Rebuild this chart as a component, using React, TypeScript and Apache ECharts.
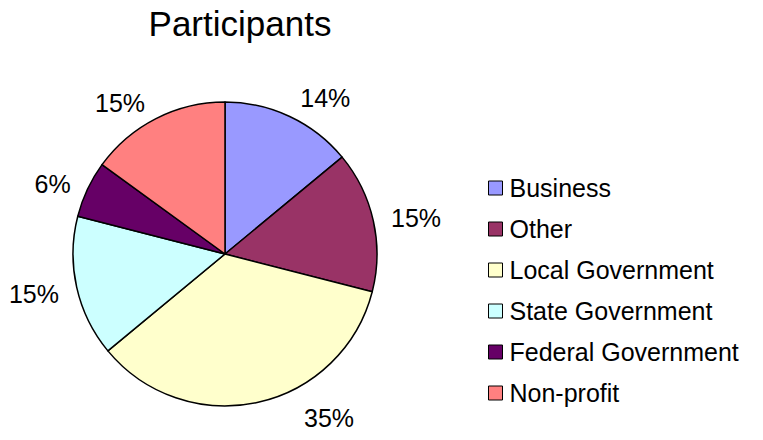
import React, { useEffect, useRef } from "react";
import * as echarts from "echarts";

const categories = ["Business", "Other", "Local Government", "State Government", "Federal Government", "Non-profit"];
const values = [14, 15, 35, 15, 6, 15];
const colors = ["#9999FF", "#993366", "#FFFFCC", "#CCFFFF", "#660066", "#FF8080"];
const titleText = "Participants";

const FONT = "'Liberation Sans', Arial, Helvetica, sans-serif";

export default function App() {
  const ref = useRef<HTMLDivElement>(null);
  useEffect(() => {
    document.body.style.margin = "0";
    const chart = echarts.init(ref.current!, undefined, { renderer: "svg" });
    chart.setOption({
      animation: false,
      backgroundColor: "#ffffff",
      title: {
        text: titleText,
        left: 235,
        textAlign: "center",
        top: 1,
        textStyle: { fontFamily: FONT, fontSize: 35, fontWeight: "normal", color: "#000" },
      },
      legend: {
        orient: "vertical",
        left: 483,
        top: 169,
        itemWidth: 14,
        itemHeight: 14,
        itemGap: 13,
        icon: "rect",
        itemStyle: { borderColor: "#000", borderWidth: 1 },
        textStyle: { fontFamily: FONT, fontSize: 25, color: "#000", lineHeight: 28, padding: [0, 0, 0, 2] },
        data: categories,
      },
      series: [
        {
          type: "pie",
          center: [225, 254],
          radius: 152,
          startAngle: 90,
          clockwise: true,
          avoidLabelOverlap: false,
          itemStyle: { borderColor: "#000", borderWidth: 1.5 },
          emphasis: { disabled: true },
          label: {
            show: true,
            position: "outside",
            formatter: (p: any) => Math.round(p.percent) + "%",
            fontFamily: FONT,
            fontSize: 25,
            color: "#000",
          },
          labelLine: { show: false, length: 13, length2: 0 },
          labelLayout: (p: any) => {
            if (p.dataIndex === 0) return { dy: -7 };
            if (p.dataIndex === 2) return { dx: 38, dy: 3 };
            if (p.dataIndex === 3) return { dy: 4 };
            if (p.dataIndex === 5) return { dy: -4 };
            return {};
          },
          data: categories.map((name, i) => ({
            name,
            value: values[i],
            itemStyle: { color: colors[i] },
          })),
        },
      ],
    });
    return () => chart.dispose();
  }, []);
  return <div ref={ref} style={{ width: 763, height: 440 }} />;
}
